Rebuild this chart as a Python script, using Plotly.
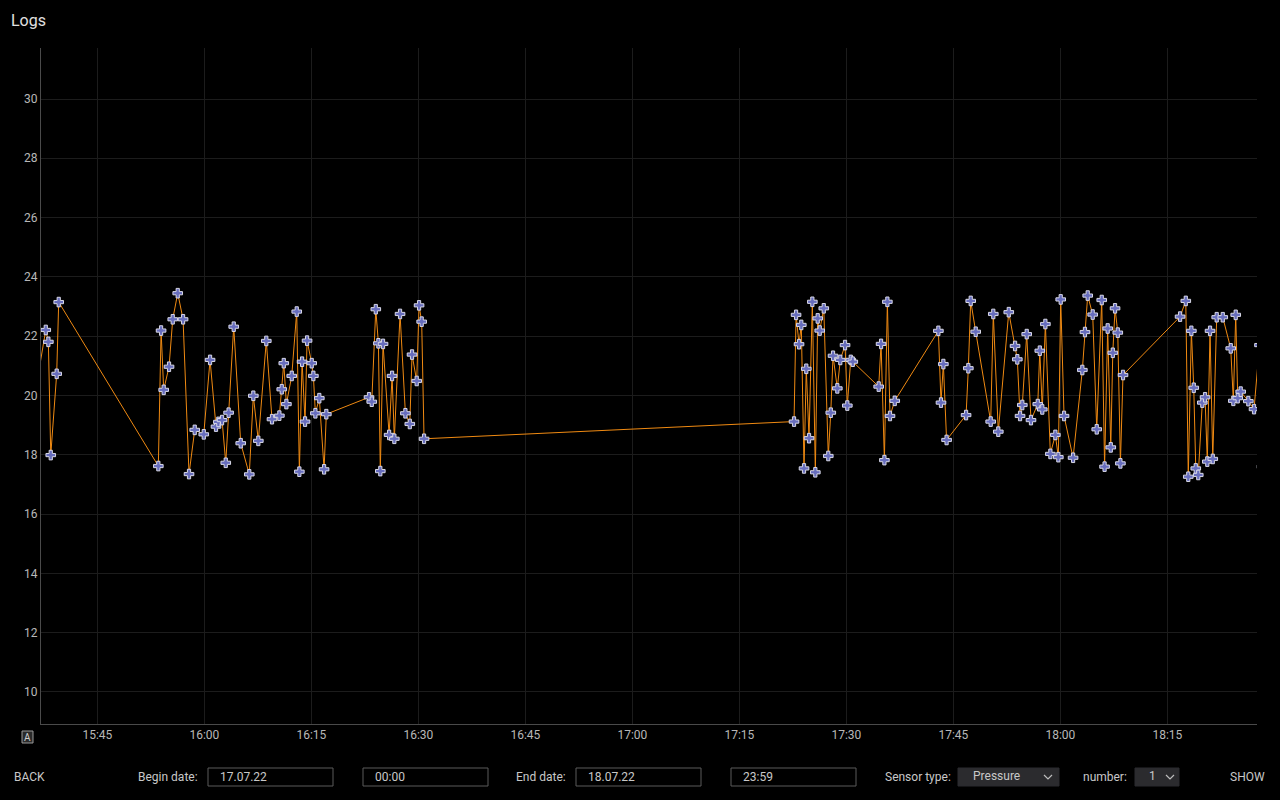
import plotly.graph_objects as go

# ---- data ----
day = "2022-07-17"
times = [
    "15:35:59", "15:37:46", "15:38:08", "15:38:28", "15:39:18", "15:39:35",
    "15:53:33", "15:53:56", "15:54:18", "15:55:03", "15:55:34", "15:56:16", "15:57:01", "15:57:51", "15:58:39", "15:59:55",
    "16:00:48", "16:01:38", "16:01:58", "16:02:29", "16:03:00", "16:03:24", "16:04:07", "16:05:06", "16:06:18", "16:06:52",
    "16:07:34", "16:08:41", "16:09:29", "16:10:31", "16:10:51", "16:11:08", "16:11:30", "16:12:15", "16:12:57", "16:13:19",
    "16:13:42", "16:14:07", "16:14:24", "16:15:03", "16:15:17", "16:15:34", "16:16:07", "16:16:47", "16:17:06",
    "16:23:05", "16:23:28", "16:24:02", "16:24:24", "16:24:40", "16:25:03", "16:25:54", "16:26:19", "16:26:38", "16:27:26",
    "16:28:11", "16:28:48", "16:29:07", "16:29:46", "16:30:06", "16:30:28", "16:30:48",
    "17:22:40", "17:22:57", "17:23:22", "17:23:41", "17:24:04", "17:24:23", "17:24:46", "17:25:14", "17:25:39", "17:25:59",
    "17:26:16", "17:26:50", "17:27:28", "17:27:49", "17:28:08", "17:28:44", "17:29:09", "17:29:49", "17:30:08", "17:30:37",
    "17:30:54", "17:34:32", "17:34:52", "17:35:20", "17:35:45", "17:36:07", "17:36:47",
    "17:42:54", "17:43:16", "17:43:36", "17:44:03", "17:46:47", "17:47:06", "17:47:26", "17:48:08", "17:50:14", "17:50:36",
    "17:51:18", "17:52:46", "17:53:39", "17:53:58", "17:54:21", "17:54:40", "17:55:17", "17:55:53", "17:56:50", "17:57:07",
    "17:57:28", "17:57:54", "17:58:36", "17:59:18", "17:59:43", "18:00:03", "18:00:31", "18:01:47", "18:03:05", "18:03:27",
    "18:03:50", "18:04:32", "18:05:06", "18:05:48", "18:06:12", "18:06:38", "18:07:04", "18:07:21", "18:07:40", "18:08:03",
    "18:08:25", "18:08:47",
    "18:16:47", "18:17:35", "18:17:56", "18:18:22", "18:18:42", "18:18:59", "18:19:20", "18:19:54", "18:20:17", "18:20:36",
    "18:20:59", "18:21:22", "18:21:55", "18:22:46", "18:23:53", "18:24:15", "18:24:35", "18:24:52", "18:25:17", "18:26:21",
    "18:27:09", "18:27:55", "18:28:16",
]
values = [
    19.66, 22.21, 21.81, 17.99, 20.73, 23.15,
    17.62, 22.19, 20.19, 20.97, 22.57, 23.45, 22.57, 17.35, 18.84, 18.69,
    21.20, 18.95, 19.11, 19.17, 17.73, 19.42, 22.32, 18.39, 17.34, 19.99,
    18.47, 21.84, 19.20, 19.32, 20.21, 21.09, 19.71, 20.66, 22.83, 17.43,
    21.14, 19.12, 21.85, 21.09, 20.66, 19.40, 19.91, 17.51, 19.37,
    19.94, 19.79, 22.91, 21.76, 17.45, 21.74, 18.67, 20.66, 18.54, 22.75,
    19.40, 19.04, 21.38, 20.49, 23.04, 22.49, 18.54,
    19.12, 22.72, 21.73, 22.38, 17.54, 20.90, 18.56, 23.16, 17.41, 22.60,
    22.19, 22.94, 17.96, 19.42, 21.34, 20.24, 21.20, 21.70, 19.66, 21.20,
    21.14, 20.30, 21.74, 17.82, 23.16, 19.31, 19.82,
    22.18, 19.76, 21.06, 18.50, 19.34, 20.92, 23.19, 22.15, 19.12, 22.75,
    18.78, 22.81, 21.67, 21.22, 19.31, 19.68, 22.07, 19.17, 19.71, 21.51,
    19.53, 22.41, 18.03, 18.67, 17.92, 23.24, 19.31, 17.90, 20.86, 22.14,
    23.37, 22.73, 18.86, 23.22, 17.60, 22.26, 18.25, 21.44, 22.94, 22.12,
    17.71, 20.69,
    22.66, 23.19, 17.26, 22.18, 20.26, 17.54, 17.32, 19.76, 19.94, 17.77,
    22.18, 17.86, 22.64, 22.64, 21.59, 19.82, 22.72, 19.91, 20.13, 19.81,
    19.54, 21.70, 17.60,
]
x_range = [day + " 15:37:06", day + " 18:27:34"]
y_range = [8.92, 31.72]
y_ticks = [10, 12, 14, 16, 18, 20, 22, 24, 26, 28, 30]

x_vals = [day + " " + t for t in times]

FONT = "Roboto, Inter, 'Liberation Sans', sans-serif"
TXT = "#c8c8c8"

fig = go.Figure()
fig.add_trace(go.Scatter(
    x=x_vals, y=values, mode="lines+markers",
    line=dict(color="#f08a12", width=1),
    marker=dict(symbol="cross", size=8, color="#676dbd",
                line=dict(color="#d8d8e6", width=1)),
    showlegend=False, cliponaxis=True,
))

# plot-area geometry in pixels (for UI chrome placement)
L, R, T, B = 41, 1257, 48, 724
def px(x):
    return (x - L) / (R - L)
def py(y):
    return (B - y) / (B - T)

annotations = []
shapes = []

def label(x, y, text, anchor="left", size=12, color=TXT):
    annotations.append(dict(x=px(x), y=py(y), xref="paper", yref="paper",
                            text=text, showarrow=False, xanchor=anchor, yanchor="middle",
                            font=dict(family=FONT, size=size, color=color)))

def box(x0, y0, x1, y1, fill="rgba(0,0,0,0)", line="#5a5a5a"):
    shapes.append(dict(type="rect", xref="paper", yref="paper",
                       x0=px(x0), x1=px(x1), y0=py(y0), y1=py(y1),
                       fillcolor=fill, line=dict(color=line, width=1), layer="above"))

def chevron(cx, cy):
    shapes.append(dict(type="path", xref="paper", yref="paper",
                       path=f"M {px(cx-4)} {py(cy-2)} L {px(cx)} {py(cy+2)} L {px(cx+4)} {py(cy-2)}",
                       line=dict(color="#bdbdbd", width=1.2), layer="above"))

# title
label(9, 20, "Logs", size=16, color="#e0e0e0")
# autoscale icon
box(22, 731, 33, 743, fill="#2a2a2a", line="#9a9a9a")
label(27.5, 737, "A", anchor="center", size=10, color="#d0d0d0")

# bottom controls
yc = 777
label(12, yc, "BACK")
label(200, yc, "Begin date:", anchor="right")
box(208, 768, 333, 786); label(218, yc, "17.07.22")
box(363, 768, 488, 786); label(373, yc, "00:00")
label(568, yc, "End date:", anchor="right")
box(576, 768, 701, 786); label(586, yc, "18.07.22")
box(731, 768, 856, 786); label(741, yc, "23:59")
label(953, yc, "Sensor type:", anchor="right")
box(958, 768, 1059, 786, fill="#2b2b2e", line="#2b2b2e"); label(971, yc - 1, "Pressure")
chevron(1048, yc)
label(1129, yc, "number:", anchor="right")
box(1135, 768, 1179, 786, fill="#2b2b2e", line="#2b2b2e"); label(1147, yc - 1, "1")
chevron(1170, yc)
label(1267, yc, "SHOW", anchor="right")

fig.update_layout(
    width=1280, height=800, autosize=False,
    paper_bgcolor="#000000", plot_bgcolor="#000000",
    margin=dict(l=L, r=1280 - R, t=T, b=800 - B),
    font=dict(family=FONT, size=12, color="#b4b4b4"),
    xaxis=dict(range=x_range, type="date", tickformat="%H:%M", dtick=900000,
               tick0=day + " 15:45", showgrid=True, gridcolor="#1c1c1c", gridwidth=1,
               showline=True, linecolor="#4a4a4a", linewidth=1, zeroline=False,
               ticks="", tickfont=dict(size=12, color="#b8b8b8")),
    yaxis=dict(range=y_range, tickvals=y_ticks, showgrid=True, gridcolor="#1c1c1c",
               gridwidth=1, showline=True, linecolor="#4a4a4a", linewidth=1,
               zeroline=False, ticks="", tickfont=dict(size=12, color="#b8b8b8")),
    annotations=annotations, shapes=shapes,
    hovermode="closest",
)

fig.write_html(
    "out.html",
    config={"displayModeBar": False},
    post_script="document.body.style.margin='0';document.body.style.background='#000';",
)
